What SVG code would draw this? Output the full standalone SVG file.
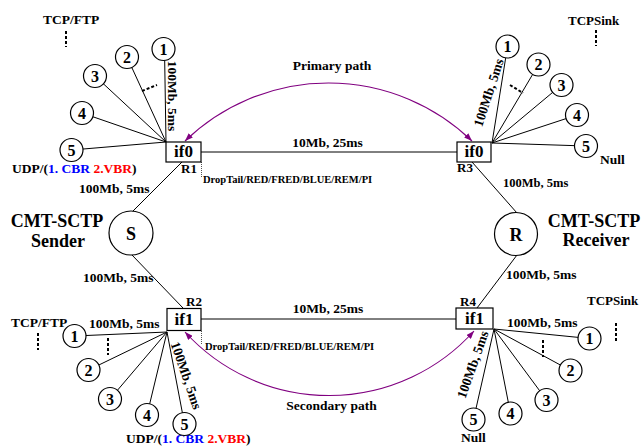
<svg xmlns="http://www.w3.org/2000/svg" width="644" height="446" viewBox="0 0 644 446">
<defs>
<style>
text{font-family:"Liberation Serif","Times New Roman",serif;font-weight:bold;fill:#000}
.t{font-size:13.5px}
.big{font-size:18px}
.box{font-size:17px}
.num{font-size:16px;text-anchor:middle}
.dt{font-size:10.5px}
.rl{font-size:13px}
.ln{stroke:#000;stroke-width:1;fill:none}
.nd{fill:#fff;stroke:#000;stroke-width:1.2}
.rt{fill:#fff;stroke:#000;stroke-width:1.2}
.dots{stroke:#000;stroke-width:2;stroke-dasharray:3,2;fill:none}
.dotted{stroke:#555;stroke-width:1;stroke-dasharray:1,1;fill:none}
.path{stroke:#800080;stroke-width:1.1;fill:none;marker-start:url(#ah);marker-end:url(#ah)}
.blue{fill:#0000ff}
.red{fill:#ff0000}
</style>
<marker id="ah" markerUnits="userSpaceOnUse" markerWidth="8" markerHeight="6" refX="8" refY="3" orient="auto-start-reverse">
<path d="M0,0 L8,3 L0,6 z" fill="#800080"/>
</marker>
</defs>
<rect width="644" height="446" fill="#fff"/>

<g id="connectors">
<line class="ln" x1="201" y1="152" x2="457" y2="152"/>
<line class="ln" x1="201" y1="319" x2="456" y2="319"/>
<line class="ln" x1="182" y1="162" x2="132" y2="212"/>
<line class="ln" x1="132" y1="255" x2="183" y2="308"/>
<line class="ln" x1="472" y1="162" x2="517" y2="213"/>
<line class="ln" x1="517" y1="255" x2="477" y2="308"/>
<line class="ln" x1="166" y1="142" x2="164.5" y2="49.5"/>
<line class="ln" x1="166" y1="142" x2="127" y2="57"/>
<line class="ln" x1="166" y1="142" x2="95" y2="76"/>
<line class="ln" x1="166" y1="142" x2="82" y2="113"/>
<line class="ln" x1="166" y1="142" x2="71.5" y2="150"/>
<line class="ln" x1="492" y1="143" x2="507.5" y2="46.5"/>
<line class="ln" x1="492" y1="143" x2="538.5" y2="64.5"/>
<line class="ln" x1="492" y1="143" x2="561.5" y2="85"/>
<line class="ln" x1="492" y1="143" x2="577" y2="115"/>
<line class="ln" x1="492" y1="143" x2="586" y2="146"/>
<line class="ln" x1="167" y1="332" x2="74.5" y2="336"/>
<line class="ln" x1="167" y1="332" x2="88.5" y2="370"/>
<line class="ln" x1="167" y1="332" x2="110" y2="399"/>
<line class="ln" x1="167" y1="332" x2="147" y2="415"/>
<line class="ln" x1="167" y1="332" x2="184.5" y2="424"/>
<line class="ln" x1="494" y1="329" x2="589.5" y2="338.5"/>
<line class="ln" x1="494" y1="329" x2="570.5" y2="370.5"/>
<line class="ln" x1="494" y1="329" x2="546.5" y2="400"/>
<line class="ln" x1="494" y1="329" x2="510.5" y2="413.5"/>
<line class="ln" x1="494" y1="329" x2="473.5" y2="419.5"/>
<line class="dotted" x1="201.5" y1="162" x2="201.5" y2="178"/>
<line class="dotted" x1="201.5" y1="331" x2="201.5" y2="344"/>
<line class="dots" x1="66" y1="31" x2="66" y2="47"/>
<line class="dots" x1="142" y1="91" x2="157" y2="85"/>
<line class="dots" x1="596" y1="30" x2="596" y2="46"/>
<line class="dots" x1="510" y1="85" x2="523" y2="93"/>
<line class="dots" x1="38" y1="333" x2="38" y2="350"/>
<line class="dots" x1="108" y1="338" x2="108" y2="355"/>
<line class="dots" x1="543" y1="340" x2="543" y2="357"/>
<line class="dots" x1="616" y1="323" x2="616" y2="341"/>
<path class="path" d="M185,141 A206.5,206.5 0 0 1 472,141"/>
<path class="path" d="M185,332 A195,195 0 0 0 474,331"/>
</g>

<g id="labels">
<text class="t" x="332" y="70" text-anchor="middle">Primary path</text>
<text class="t" x="331.5" y="410" text-anchor="middle">Secondary path</text>
<text class="t" x="327.5" y="147" text-anchor="middle">10Mb, 25ms</text>
<text class="t" x="328" y="313" text-anchor="middle">10Mb, 25ms</text>
<text class="dt" x="203" y="183">DropTail/RED/FRED/BLUE/REM/PI</text>
<text class="dt" x="205" y="350">DropTail/RED/FRED/BLUE/REM/PI</text>
<text class="t" x="79" y="193">100Mb, 5ms</text>
<text class="t" x="83" y="282">100Mb, 5ms</text>
<text class="t" x="503" y="187" style="font-size:12.5px">100Mb, 5ms</text>
<text class="t" x="506" y="279">100Mb, 5ms</text>
<text class="t" x="89" y="328">100Mb, 5ms</text>
<text class="t" x="507" y="327">100Mb, 5ms</text>
<text class="t" text-anchor="middle" transform="translate(168,96) rotate(90)">100Mb, 5ms</text>
<text class="t" text-anchor="middle" transform="translate(493,94) rotate(-72)">100Mb, 5ms</text>
<text class="t" text-anchor="middle" transform="translate(182,377) rotate(71)">100Mb, 5ms</text>
<text class="t" text-anchor="middle" transform="translate(477,366) rotate(-70.5)">100Mb, 5ms</text>
<text class="t" x="43" y="24">TCP/FTP</text>
<text class="t" x="11" y="327">TCP/FTP</text>
<text class="t" x="568" y="25" style="font-size:13px">TCPSink</text>
<text class="t" x="587" y="305" style="font-size:13px">TCPSink</text>
<text class="t" x="600" y="164">Null</text>
<text class="t" x="461" y="442">Null</text>
<text class="t" x="12" y="173">UDP/(<tspan class="blue">1. CBR</tspan> <tspan class="red">2.VBR</tspan>)</text>
<text class="t" x="126" y="443">UDP/(<tspan class="blue">1. CBR</tspan> <tspan class="red">2.VBR</tspan>)</text>
<text class="big" x="57" y="227" text-anchor="middle">CMT-SCTP</text>
<text class="big" x="58" y="247" text-anchor="middle">Sender</text>
<text class="big" x="594" y="227" text-anchor="middle">CMT-SCTP</text>
<text class="big" x="596" y="246" text-anchor="middle">Receiver</text>
</g>

<g id="R1">
<rect class="rt" x="166" y="142" width="35" height="20"/>
<text class="box" x="183.5" y="157" text-anchor="middle">if0</text>
<text class="rl" x="181" y="173">R1</text>
</g>
<g id="R3">
<rect class="rt" x="457" y="142" width="34" height="20"/>
<text class="box" x="474" y="157" text-anchor="middle">if0</text>
<text class="rl" x="457" y="172">R3</text>
</g>
<g id="R2">
<rect class="rt" x="167" y="308.5" width="34" height="22"/>
<text class="box" x="184" y="325" text-anchor="middle">if1</text>
<text class="rl" x="186" y="306">R2</text>
</g>
<g id="R4">
<rect class="rt" x="456" y="308" width="37" height="21"/>
<text class="box" x="474.5" y="324" text-anchor="middle">if1</text>
<text class="rl" x="460" y="306">R4</text>
</g>
<g id="S">
<circle class="nd" cx="131" cy="233" r="22"/>
<text class="big" x="131" y="239.5" text-anchor="middle">S</text>
</g>
<g id="R">
<circle class="nd" cx="516" cy="234" r="21.5"/>
<text class="big" x="516" y="240.5" text-anchor="middle">R</text>
</g>

<g id="src-tl-1"><circle class="nd" cx="163.5" cy="49" r="11.5"/><text class="num" x="163.5" y="54.5">1</text></g>
<g id="src-tl-2"><circle class="nd" cx="127" cy="57" r="11.5"/><text class="num" x="127" y="62.5">2</text></g>
<g id="src-tl-3"><circle class="nd" cx="95" cy="76" r="11.5"/><text class="num" x="95" y="81.5">3</text></g>
<g id="src-tl-4"><circle class="nd" cx="82" cy="113" r="11.5"/><text class="num" x="82" y="118.5">4</text></g>
<g id="src-tl-5"><circle class="nd" cx="71.5" cy="150" r="11.5"/><text class="num" x="71.5" y="155.5">5</text></g>

<g id="sink-tr-1"><circle class="nd" cx="507.5" cy="46.5" r="11.5"/><text class="num" x="507.5" y="52">1</text></g>
<g id="sink-tr-2"><circle class="nd" cx="538.5" cy="64.5" r="11.5"/><text class="num" x="538.5" y="70">2</text></g>
<g id="sink-tr-3"><circle class="nd" cx="561.5" cy="85" r="11.5"/><text class="num" x="561.5" y="90.5">3</text></g>
<g id="sink-tr-4"><circle class="nd" cx="577" cy="115" r="11.5"/><text class="num" x="577" y="120.5">4</text></g>
<g id="sink-tr-5"><circle class="nd" cx="586" cy="146" r="11.5"/><text class="num" x="586" y="151.5">5</text></g>

<g id="src-bl-1"><circle class="nd" cx="74.5" cy="336" r="11.5"/><text class="num" x="74.5" y="341.5">1</text></g>
<g id="src-bl-2"><circle class="nd" cx="88.5" cy="370" r="11.5"/><text class="num" x="88.5" y="375.5">2</text></g>
<g id="src-bl-3"><circle class="nd" cx="110" cy="399" r="11.5"/><text class="num" x="110" y="404.5">3</text></g>
<g id="src-bl-4"><circle class="nd" cx="147" cy="415" r="11.5"/><text class="num" x="147" y="420.5">4</text></g>
<g id="src-bl-5"><circle class="nd" cx="184.5" cy="424" r="11.5"/><text class="num" x="184.5" y="429.5">5</text></g>

<g id="sink-br-1"><circle class="nd" cx="589.5" cy="338.5" r="11.5"/><text class="num" x="589.5" y="344">1</text></g>
<g id="sink-br-2"><circle class="nd" cx="570.5" cy="370.5" r="11.5"/><text class="num" x="570.5" y="376">2</text></g>
<g id="sink-br-3"><circle class="nd" cx="546.5" cy="400" r="11.5"/><text class="num" x="546.5" y="405.5">3</text></g>
<g id="sink-br-4"><circle class="nd" cx="510.5" cy="413.5" r="11.5"/><text class="num" x="510.5" y="419">4</text></g>
<g id="sink-br-5"><circle class="nd" cx="473.5" cy="419.5" r="11.5"/><text class="num" x="473.5" y="425">5</text></g>
</svg>
